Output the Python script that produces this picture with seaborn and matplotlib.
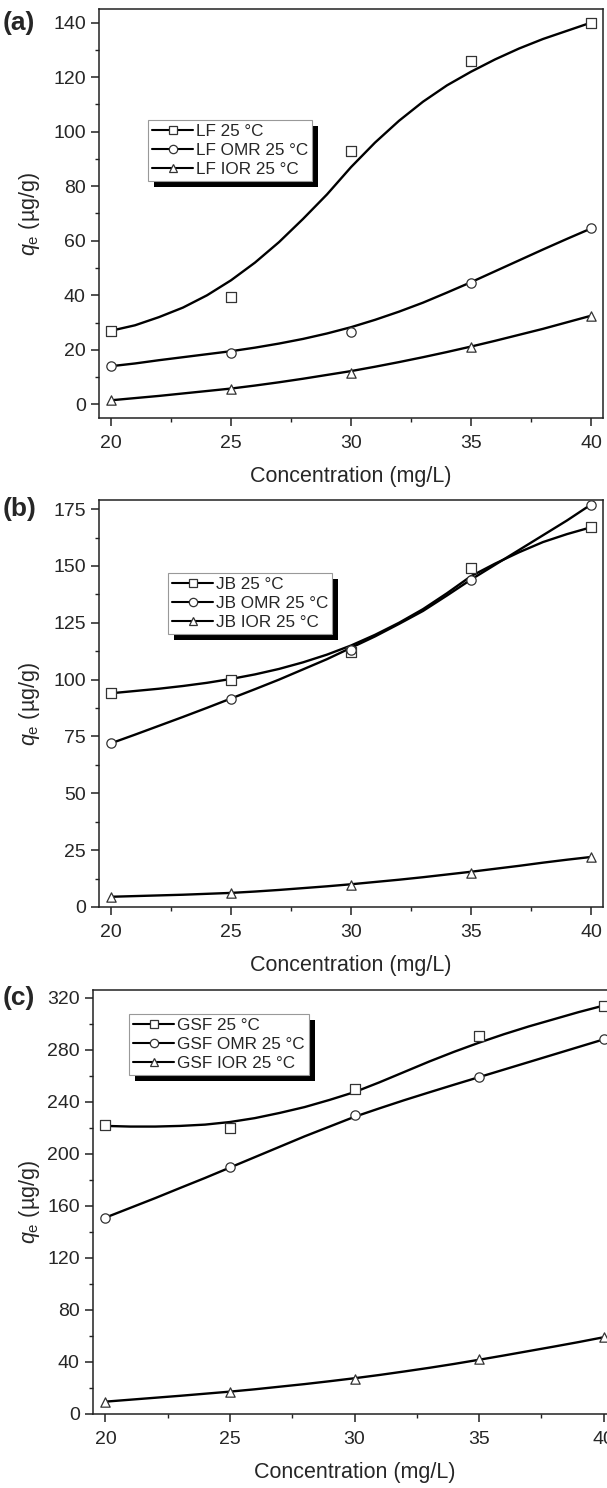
import matplotlib
matplotlib.use('Agg')
import matplotlib.pyplot as plt
import seaborn as sns
from matplotlib.lines import Line2D
from matplotlib.patches import Rectangle
from matplotlib.ticker import MultipleLocator
from matplotlib.transforms import blended_transform_factory

# ---------------- data ----------------
conc = [20, 25, 30, 35, 40]
fit_conc = [20, 21, 22, 23, 24, 25, 26, 27, 28, 29, 30,
            31, 32, 33, 34, 35, 36, 37, 38, 39, 40]

lf = [27, 39.5, 93, 126, 140]
lf_omr = [14, 19, 26.5, 44.5, 64.5]
lf_ior = [1.5, 5.5, 11.5, 21, 32.5]
lf_fit = [27, 29, 32, 35.5, 40, 45.5, 52, 59.5, 68, 77, 87,
          96, 104, 111, 117, 122, 126.5, 130.5, 134, 137, 140]
lf_omr_fit = [14, 15, 16.2, 17.3, 18.4, 19.5, 20.8, 22.3, 24, 26, 28.3,
              31, 34, 37.3, 41, 44.8, 48.8, 52.8, 56.8, 60.7, 64.5]
lf_ior_fit = [1.5, 2.3, 3.1, 4, 4.9, 5.8, 6.9, 8.1, 9.4, 10.8, 12.2,
              13.8, 15.5, 17.3, 19.2, 21.2, 23.3, 25.5, 27.7, 30.1, 32.5]

jb = [94, 100, 112, 149, 167]
jb_omr = [72, 91.5, 113, 144, 177]
jb_ior = [4.5, 6, 9.5, 15, 22]
jb_fit = [94, 95, 96, 97.2, 98.6, 100.3, 102.3, 104.7, 107.6, 111, 115,
          119.7, 125, 131, 138, 145.5, 151, 156, 160.5, 164, 167]
jb_omr_fit = [72, 75.8, 79.7, 83.6, 87.6, 91.7, 95.8, 100, 104.5, 109, 114,
              119, 124.5, 130.2, 137, 144, 150.5, 157, 163.5, 170, 177]
jb_ior_fit = [4.5, 4.8, 5.1, 5.4, 5.8, 6.2, 6.8, 7.5, 8.3, 9.1, 10,
              11, 12, 13.1, 14.3, 15.5, 16.8, 18.1, 19.5, 20.8, 22]

gsf = [222, 220, 250, 291, 314]
gsf_omr = [151, 190, 230, 259, 288]
gsf_ior = [9, 17, 27, 42, 59]
gsf_fit = [221.5, 221, 221, 221.5, 222.5, 224.5, 227.5, 231.5, 236, 241.5, 247.5,
           255, 263, 271, 278.5, 285.5, 292, 298, 303.5, 309, 314]
gsf_omr_fit = [151, 158.5, 166, 173.8, 181.5, 189.5, 197.5, 205.5, 213.5, 221, 228.5,
               235, 241.3, 247.3, 253.2, 259, 264.8, 270.6, 276.4, 282.2, 288]
gsf_ior_fit = [9.5, 11, 12.5, 14, 15.6, 17.2, 19, 21, 23, 25.2, 27.5,
               30, 32.7, 35.5, 38.5, 41.7, 45, 48.4, 51.8, 55.3, 59]

labels_a = ["LF 25 °C", "LF OMR 25 °C", "LF IOR 25 °C"]
labels_b = ["JB 25 °C", "JB OMR 25 °C", "JB IOR 25 °C"]
labels_c = ["GSF 25 °C", "GSF OMR 25 °C", "GSF IOR 25 °C"]
panel_tags = ["(a)", "(b)", "(c)"]
xlabel_text = "Concentration (mg/L)"
ylabel_text = r"$q_{\mathrm{e}}$ (µg/g)"

# ---------------- style ----------------
sns.set_style("ticks")
plt.rcParams['font.family'] = ['Liberation Sans', 'DejaVu Sans']
plt.rcParams['mathtext.fontset'] = 'custom'
plt.rcParams['mathtext.rm'] = 'Liberation Sans'
plt.rcParams['mathtext.it'] = 'Liberation Sans:italic'
plt.rcParams['axes.edgecolor'] = '#222222'
plt.rcParams['axes.linewidth'] = 1.1

W, H = 607, 1488
fig = plt.figure(figsize=(W / 100, H / 100), dpi=100)

def px_axes(left, top, right, bottom):
    return fig.add_axes([left / W, 1 - bottom / H, (right - left) / W, (bottom - top) / H])

markers = ['s', 'o', '^']

panels = [
    dict(box=(99, 9, 603, 418), ylim=(-5, 145), major=20, minor=10,
         pts=[lf, lf_omr, lf_ior], fits=[lf_fit, lf_omr_fit, lf_ior_fit],
         labels=labels_a, leg=(148, 120), tag_y=140),
    dict(box=(99, 500, 603, 907), ylim=(0, 179), major=25, minor=12.5,
         pts=[jb, jb_omr, jb_ior], fits=[jb_fit, jb_omr_fit, jb_ior_fit],
         labels=labels_b, leg=(168, 573), tag_y=175),
    dict(box=(93, 990, 616, 1414), ylim=(0, 326), major=40, minor=20,
         pts=[gsf, gsf_omr, gsf_ior], fits=[gsf_fit, gsf_omr_fit, gsf_ior_fit],
         labels=labels_c, leg=(129, 1014), tag_y=320),
]

legends = []
for i, p in enumerate(panels):
    l, t, r, b = p['box']
    ax = px_axes(l, t, r, b)
    for k in range(3):
        sns.lineplot(x=fit_conc, y=p['fits'][k], ax=ax, color='black', lw=1.7,
                     sort=False, legend=False, zorder=2)
        sns.scatterplot(x=conc, y=p['pts'][k], ax=ax, marker=markers[k], s=45,
                        facecolor='white', edgecolor='#333333', linewidth=0.9,
                        legend=False, zorder=3)
    ax.set_xlim(19.5, 40.5)
    ax.set_ylim(*p['ylim'])
    ax.xaxis.set_major_locator(MultipleLocator(5))
    ax.xaxis.set_minor_locator(MultipleLocator(2.5))
    ax.yaxis.set_major_locator(MultipleLocator(p['major']))
    ax.yaxis.set_minor_locator(MultipleLocator(p['minor']))
    ax.tick_params(which='major', direction='out', length=6, width=1.1,
                   labelsize=14, color='#222222')
    ax.tick_params(axis='x', which='major', pad=6)
    ax.tick_params(axis='y', which='major', pad=3.5)
    ax.tick_params(which='minor', direction='out', length=3, width=1.0, color='#222222')
    for s in ax.spines.values():
        s.set_visible(True)
    ax.set_xlabel(xlabel_text, fontsize=15.5)
    ax.set_ylabel(ylabel_text, fontsize=15.5)
    hgt = b - t
    ax.xaxis.set_label_coords(0.5, -48 / hgt)
    ax.yaxis.set_label_coords(-(l - 30) / (r - l), 0.5)
    ax.yaxis.label.set_va('center')

    trans = blended_transform_factory(fig.transFigure, ax.transData)
    ax.text(3 / W, p['tag_y'], panel_tags[i], transform=trans, fontsize=19,
            fontweight='bold', ha='left', va='center')

    handles = [Line2D([], [], color='black', lw=1.5, marker=markers[k], markersize=6,
                      markerfacecolor='white', markeredgecolor='#333333',
                      markeredgewidth=0.9) for k in range(3)]
    lx, ly = p['leg']
    leg = ax.legend(handles, p['labels'], loc='upper left',
                    bbox_to_anchor=((lx - l) / (r - l), (b - ly) / hgt),
                    fontsize=12.3, frameon=True, fancybox=False, framealpha=1,
                    edgecolor='#999999', borderpad=0.25, labelspacing=0.22,
                    handlelength=2.4, handletextpad=0.15, borderaxespad=0)
    leg.get_frame().set_linewidth(0.8)
    leg.set_zorder(6)
    legends.append((ax, leg))

fig.canvas.draw()
renderer = fig.canvas.get_renderer()
for ax, leg in legends:
    bb = leg.get_frame().get_window_extent(renderer)
    sh = Rectangle((bb.x0 + 6, bb.y0 - 6), bb.width, bb.height, transform=None,
                   facecolor='black', edgecolor='none', zorder=5.5)
    ax.add_artist(sh)

fig.savefig('out.png', dpi=100)
